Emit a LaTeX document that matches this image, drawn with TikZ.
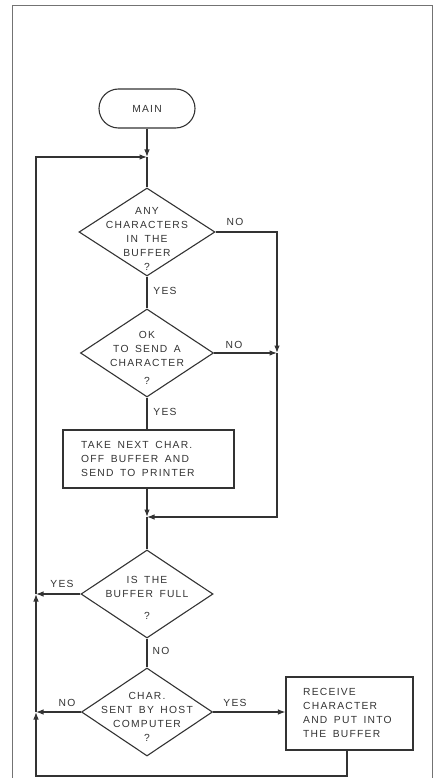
\documentclass[tikz,border=0pt]{standalone}
\usepackage{fontspec}
\newfontfamily\labfont[LetterSpace=12,WordSpace=1.6]{Liberation Sans}
\usetikzlibrary{shapes.geometric,arrows.meta}
\begin{document}
\begin{tikzpicture}[x=1pt,y=-1pt,
  ln/.style={draw=black!80,line width=1.1pt},
  arr/.style={ln,-{Latex[length=7.5pt,width=5.5pt]}},
  dia/.style={ln,shape=diamond,inner sep=0pt,minimum width=#1,minimum height=88pt},
  boxn/.style={ln,rectangle,inner sep=0pt},
  txt/.style={text=black!80,inner sep=0pt,align=center,font=\labfont\fontsize{10.3}{14}\selectfont},
  ltxt/.style={txt,align=left,anchor=west}]
\useasboundingbox (0,0) rectangle (435,778);
% frame
\draw[black!55,line width=0.8pt] (12,778) -- (12,5) -- (432,5) -- (432,778);
% nodes
\node[ln,rectangle,rounded corners=19.5pt,minimum width=96pt,minimum height=39pt] (main) at (147,108.5) {};
\node[txt] (maintxt) at (main) {MAIN};
\node[dia=136pt] (d1) at (147,232) {};
\node[txt] (d1t) at (147,239) {ANY\\CHARACTERS\\IN THE\\BUFFER\\?};
\node[dia=133pt] (d2) at (147,353) {};
\node[txt] (d2t) at (147,358) {OK\\TO SEND A\\CHARACTER\\[4pt]?};
\node[boxn,minimum width=171pt,minimum height=58pt] (b1) at (148.5,459) {};
\node[ltxt] (b1t) at (81,458.5) {TAKE NEXT CHAR.\\OFF BUFFER AND\\SEND TO PRINTER};
\node[dia=132pt] (d3) at (147,594) {};
\node[txt] (d3t) at (147,597.5) {IS THE\\BUFFER FULL\\[8pt]?};
\node[dia=131pt] (d4) at (147,712) {};
\node[txt] (d4t) at (147,717) {CHAR.\\SENT BY HOST\\COMPUTER\\?};
\node[boxn,minimum width=127pt,minimum height=73pt] (b2) at (349.5,713.5) {};
\node[ltxt] (b2t) at (303,712.5) {RECEIVE\\CHARACTER\\AND PUT INTO\\THE BUFFER};
% junctions
\coordinate (j1) at (147,157);
\coordinate (j2) at (277,353);
\coordinate (c1) at (277,232);
\coordinate (c2) at (277,517);
\coordinate (j3) at (147,517);
\coordinate (j4) at (36,594);
\coordinate (j5) at (36,712);
\coordinate (c3) at (36,157);
\coordinate (c4) at (36,776);
\coordinate (c5) at (347,776);
% connectors
\draw[arr] (main.south) -- (j1);
\draw[ln] (j1) -- (d1.north);
\draw[ln] (d1.south) -- (d2.north);
\draw[arr] (d1.east) -- (c1) -- (j2);
\draw[arr] (d2.east) -- (j2);
\draw[ln] (d2.south) -- (d2.south |- b1.north);
\draw[arr] (b1.south -| j3) -- (j3);
\draw[arr] (j2) -- (c2) -- (j3);
\draw[ln] (j3) -- (d3.north);
\draw[arr] (d3.west) -- (j4);
\draw[ln] (d3.south) -- (d4.north);
\draw[arr] (d4.west) -- (j5);
\draw[arr] (d4.east) -- (d4.east -| b2.west);
\draw[arr] (b2.south -| c5) -- (c5) -- (c4) -- (j5);
\draw[arr] (j5) -- (j4);
\draw[arr] (j4) -- (c3) -- (j1);
% labels
\node[txt] (l1) at (235,222) {NO};
\node[txt] (l2) at (234,345) {NO};
\node[txt] (l3) at (165,291) {YES};
\node[txt] (l4) at (165,412) {YES};
\node[txt] (l5) at (62,584) {YES};
\node[txt] (l6) at (161,651) {NO};
\node[txt] (l7) at (67,703) {NO};
\node[txt] (l8) at (235,703) {YES};
\end{tikzpicture}
\end{document}
